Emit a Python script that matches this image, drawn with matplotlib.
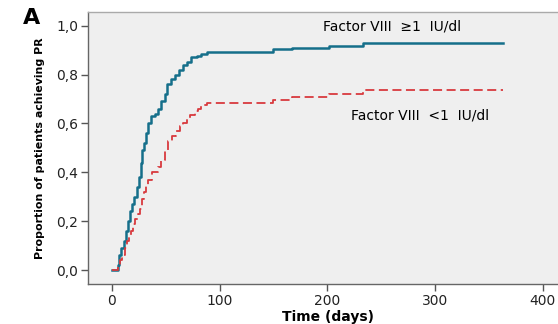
import matplotlib
matplotlib.use("Agg")
import matplotlib.pyplot as plt
from matplotlib.ticker import FuncFormatter

plt.rcParams['font.family'] = ['DejaVu Sans']

# step curves (day, proportion after the step)
days_hi = [0, 5.5, 7, 9, 11, 13, 15, 17, 19, 21, 23, 25, 27, 28.5, 30, 32, 34, 36, 40, 43,
           46, 49, 51, 55, 59, 62, 66, 70, 74, 79, 83, 88, 150, 167, 202, 233, 363]
prop_hi = [0, 0.02, 0.06, 0.09, 0.12, 0.16, 0.20, 0.24, 0.27, 0.30, 0.34, 0.38, 0.44, 0.49,
           0.52, 0.56, 0.60, 0.63, 0.64, 0.66, 0.69, 0.72, 0.76, 0.78, 0.80, 0.82, 0.84, 0.85,
           0.87, 0.875, 0.885, 0.894, 0.903, 0.91, 0.918, 0.928, 0.928]

days_lo = [0, 6, 8, 10, 12, 14, 16, 18, 20, 22, 24, 26, 28, 30, 32, 34, 37, 43, 46, 49, 52,
           56, 60, 63, 66, 70, 73, 77, 80, 83, 88, 150, 167, 202, 233, 363]
prop_lo = [0, 0.02, 0.04, 0.06, 0.09, 0.12, 0.14, 0.16, 0.19, 0.21, 0.23, 0.25, 0.29, 0.32,
           0.35, 0.37, 0.40, 0.42, 0.45, 0.49, 0.53, 0.55, 0.57, 0.59, 0.60, 0.62, 0.635, 0.65,
           0.66, 0.675, 0.685, 0.696, 0.709, 0.72, 0.737, 0.737]

label_hi = "Factor VIII  \u22651  IU/dl"
label_lo = "Factor VIII  <1  IU/dl"

fig = plt.figure(figsize=(5.58, 3.24), dpi=100)
ax = fig.add_axes([88/558, 40/324, 1 - 88/558, 272/324])
ax.set_facecolor('#efefef')

ax.step(days_hi, prop_hi, where='post', color='#156f8a', lw=1.8)
ax.step(days_lo, prop_lo, where='post', color='#d83a3e', lw=1.3, dashes=(5, 2.5))

ax.set_xlim(-22, 414)
ax.set_ylim(-0.057, 1.056)
ax.set_xticks([0, 100, 200, 300, 400])
ax.set_yticks([0, 0.2, 0.4, 0.6, 0.8, 1.0])
ax.yaxis.set_major_formatter(FuncFormatter(lambda v, p: f"{v:.1f}".replace('.', ',')))
ax.tick_params(labelsize=10, length=5, width=1, color='#555555', pad=2, labelcolor='#222222')

for s in ['left', 'bottom', 'top']:
    ax.spines[s].set_color('#666666')
    ax.spines[s].set_linewidth(1)
ax.spines['top'].set_color('#aaaaaa')
ax.spines['right'].set_visible(False)

ax.text(0.646, 0.945, label_hi, transform=ax.transAxes, ha='center', va='center', fontsize=10)
ax.text(0.706, 0.62, label_lo, transform=ax.transAxes, ha='center', va='center', fontsize=10)

fig.text(328/558, 1 - 317/324, "Time (days)", ha='center', va='center', fontsize=10, fontweight='bold')
fig.text(40/558, 1 - 148/324, "Proportion of patients achieving PR", rotation=90,
         ha='center', va='center', fontsize=7.9, fontweight='bold')
fig.text(32/558, 1 - 18/324, "A", ha='center', va='center', fontsize=16, fontweight='bold')

fig.savefig('out.png', dpi=100)
